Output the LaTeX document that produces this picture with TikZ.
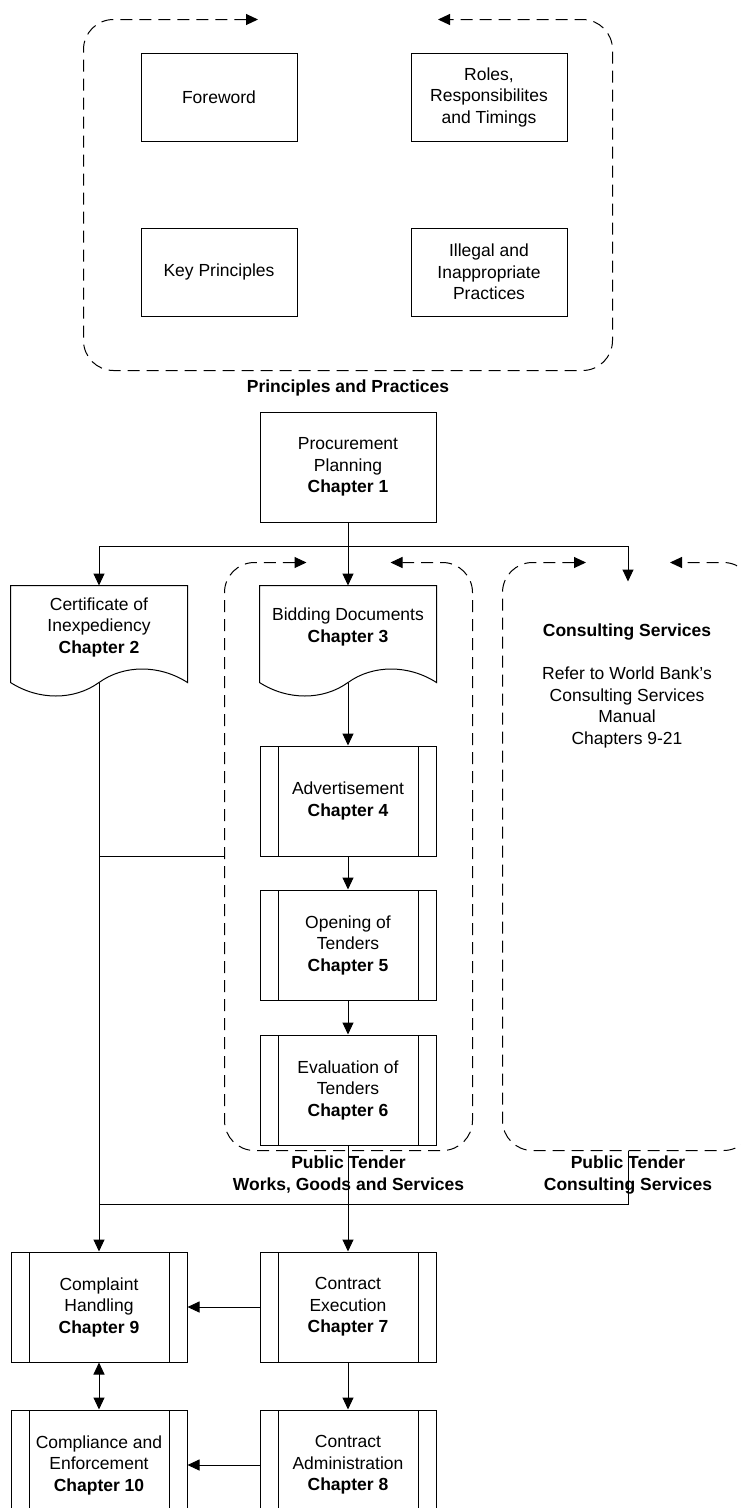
\documentclass[tikz,border=0pt]{standalone}
\usepackage{fontspec}
\setmainfont{Liberation Sans}
\usetikzlibrary{arrows.meta,positioning}

% document shape: top and sides, wavy bottom
\newcommand{\docoutline}[1]{%
  \draw (#1.north west) -- (#1.north east) -- ([yshift=-14pt]#1.south east)
    .. controls +(-28,18) and +(25,18) .. ([yshift=-14pt]#1.south)
    .. controls +(-25,-18) and +(28,-18) .. ([yshift=-14pt]#1.south west) -- cycle;}
% dashed group frame, open at the top with arrows
\newcommand{\groupoutline}[2]{%
  \draw[outline] ([xshift=-#2]#1.north) -- (#1.north west) -- (#1.south west)
    -- (#1.south east) -- (#1.north east) -- ([xshift=#2]#1.north);}

\begin{document}
\begin{tikzpicture}[x=1pt,y=1pt,line width=1pt,
    every node/.style={font=\fontsize{17.5pt}{21.5pt}\selectfont, align=center},
    box/.style={draw, minimum width=156pt, minimum height=88pt},
    proc/.style={draw, minimum width=176pt, minimum height=110pt,
      path picture={\draw ([xshift=18pt]path picture bounding box.north west) -- ([xshift=18pt]path picture bounding box.south west)
        ([xshift=-18pt]path picture bounding box.north east) -- ([xshift=-18pt]path picture bounding box.south east);}},
    doc/.style={minimum width=176pt, minimum height=82pt},
    grp/.style={inner sep=0pt},
    glabel/.style={font=\fontsize{17.5pt}{21.5pt}\selectfont\bfseries, inner sep=2pt},
    arr/.style={-{Triangle[length=12pt,width=11pt]}},
    dbl/.style={{Triangle[length=12pt,width=11pt]}-{Triangle[length=12pt,width=11pt]}},
    outline/.style={dash pattern=on 12pt off 7pt, rounded corners=30pt,
      {Triangle[length=12pt,width=11pt]}-{Triangle[length=12pt,width=11pt]}}]

  \useasboundingbox (0,0) rectangle (741,-1508);

  % principles and practices
  \node[box] (fore) at (219,-97) {Foreword};
  \node[box] (roles) [right=113pt of fore] {Roles,\\Responsibilites\\and Timings};
  \node[box] (keyp) [below=86pt of fore] {Key Principles};
  \node[box] (illeg) [right=113pt of keyp] {Illegal and\\Inappropriate\\Practices};
  \node[grp, minimum width=528pt, minimum height=350pt] (prin) at (348,-195) {};
  \groupoutline{prin}{90pt}
  \node[glabel] (prinlabel) [below=7pt of prin] {Principles and Practices};

  % planning and tender
  \node[draw, minimum width=176pt, minimum height=110pt] (plan) at (348,-467) {Procurement\\Planning\\\textbf{Chapter 1}};
  \node[doc] (bid) [below=63pt of plan] {Bidding Documents\\\textbf{Chapter 3}};
  \node[doc] (cert) [left=72pt of bid] {Certificate of\\Inexpediency\\\textbf{Chapter 2}};
  \docoutline{bid}
  \docoutline{cert}
  \node[proc] (adv) [below=77pt of bid] {Advertisement\\\textbf{Chapter 4}};
  \node[proc] (open) [below=33pt of adv] {Opening of\\Tenders\\\textbf{Chapter 5}};
  \node[proc] (eval) [below=34pt of open] {Evaluation of\\Tenders\\\textbf{Chapter 6}};

  \node[grp, minimum width=247pt, minimum height=587pt] (works) at (348.5,-856.5) {};
  \groupoutline{works}{42pt}
  \node[glabel] (workslabel) [below=3pt of works] {Public Tender\\Works, Goods and Services};

  \node[grp, minimum width=250pt, minimum height=587pt] (cons) at (628,-856.5) {};
  \groupoutline{cons}{42pt}
  \node (constext) at (627,-686) {\textbf{Consulting Services}\\[21.5pt]Refer to World Bank’s\\Consulting Services\\Manual\\Chapters 9-21};
  \node[glabel] (conslabel) [below=3pt of cons] {Public Tender\\Consulting Services};

  % contract and complaints
  \node[proc] (exec) [below=106pt of eval] {Contract\\Execution\\\textbf{Chapter 7}};
  \node[proc] (admin) [below=47pt of exec] {Contract\\Administration\\\textbf{Chapter 8}};
  \node[proc] (compl) [left=72pt of exec] {Complaint\\Handling\\\textbf{Chapter 9}};
  \node[proc] (enfor) [left=72pt of admin] {Compliance and\\Enforcement\\\textbf{Chapter 10}};

  \coordinate (split) at ([yshift=-24pt]plan.south);
  \coordinate (constop) at ([yshift=-19pt]cons.north);
  \coordinate (merge) at (100,-1204);

  \draw[arr] (plan.south) -- (bid.north);
  \draw[arr] (split) -| (cert.north);
  \draw[arr] (split) -| (constop);
  \draw[arr] ([yshift=-14pt]bid.south) -- (adv.north);
  \draw[arr] (adv) -- (open);
  \draw[arr] (open) -- (eval);
  \draw[arr] (eval) -- (exec);
  \draw[arr] (exec) -- (admin);
  \draw[arr] ([yshift=-14pt]cert.south) -- (compl.north);
  \draw (works.west) -- (works.west -| cert.south);
  \draw (cons.south) |- (merge);
  \draw[arr] (exec) -- (compl);
  \draw[arr] (admin) -- (enfor);
  \draw[dbl] (compl) -- (enfor);
\end{tikzpicture}
\end{document}
